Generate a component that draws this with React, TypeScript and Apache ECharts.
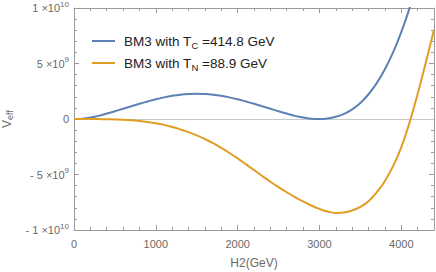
import React, { useEffect, useRef } from 'react';
import * as echarts from 'echarts';

// H2 field values (GeV)
const hValues = [
  0, 100, 200, 300, 400, 500, 600, 700, 800, 900,
  1000, 1100, 1200, 1300, 1400, 1500, 1600, 1700, 1800, 1900,
  2000, 2100, 2200, 2300, 2400, 2500, 2600, 2700, 2800, 2900,
  3000, 3100, 3200, 3300, 3400, 3500, 3600, 3700, 3800, 3900,
  4000, 4100, 4200, 4300, 4400,
];
// V_eff at T_C = 414.8 GeV
const tcValues = [
  0, 0.03e9, 0.13e9, 0.28e9, 0.49e9, 0.7e9, 0.93e9, 1.15e9, 1.37e9, 1.58e9,
  1.78e9, 1.95e9, 2.09e9, 2.19e9, 2.25e9, 2.28e9, 2.25e9, 2.19e9, 2.09e9, 1.95e9,
  1.78e9, 1.58e9, 1.37e9, 1.15e9, 0.93e9, 0.7e9, 0.49e9, 0.28e9, 0.13e9, 0.03e9,
  0, 0.05e9, 0.2e9, 0.46e9, 0.87e9, 1.45e9, 2.23e9, 3.23e9, 4.48e9, 6.0e9,
  7.82e9, 9.97e9, 12.5e9,
];
// V_eff at T_N = 88.9 GeV
const tnValues = [
  0, 0, -0.003e9, -0.01e9, -0.02e9, -0.035e9, -0.06e9, -0.11e9, -0.18e9, -0.27e9,
  -0.38e9, -0.53e9, -0.72e9, -0.94e9, -1.18e9, -1.47e9, -1.8e9, -2.18e9, -2.6e9, -3.06e9,
  -3.55e9, -4.07e9, -4.6e9, -5.13e9, -5.65e9, -6.14e9, -6.6e9, -7.03e9, -7.43e9, -7.79e9,
  -8.1e9, -8.34e9, -8.46e9, -8.42e9, -8.24e9, -7.92e9, -7.4e9, -6.62e9, -5.58e9, -4.24e9,
  -2.55e9, -0.35e9, 2.25e9, 5.1e9, 8.05e9,
];

const seriesNames = ['BM3 with TC =414.8 GeV', 'BM3 with TN =88.9 GeV'];
const legendLabels = ['BM3 with T{sub|C} =414.8 GeV', 'BM3 with T{sub|N} =88.9 GeV'];
const seriesColors = ['#5E81B5', '#E19C24'];
const xMajorTicks = [0, 1000, 2000, 3000, 4000];

const FONT = "'Liberation Sans', Arial, sans-serif";
const FRAME = '#9a9a9a';
const LABEL = '#6a6a6a';

export default function App() {
  const ref = useRef<HTMLDivElement>(null);
  useEffect(() => {
    if (!ref.current) return;
    const chart = echarts.init(ref.current, undefined, { renderer: 'svg' });
    const gridRect = { left: 74, right: 2, top: 8, bottom: 42, containLabel: false, outerBoundsMode: 'none' };
    const xBase = { type: 'value', min: 0, max: 4400, splitLine: { show: false } };
    const tickMajor = { show: true, inside: true, length: 5, lineStyle: { color: FRAME } };
    const tickMinor = { show: true, inside: true, length: 3, lineStyle: { color: FRAME } };
    const yLabel = (v: number) => {
      if (v === 0) return '0';
      const a = Math.abs(v);
      const exp = Math.floor(Math.log10(a) + 1e-9);
      const mant = Math.round(a / Math.pow(10, exp));
      return (v < 0 ? '- ' : '') + mant + ' \u00d710{sup|' + exp + '}';
    };
    const toPairs = (vals: number[]) => vals.map((v, i) => [hValues[i], v]);
    chart.setOption({
      animation: false,
      textStyle: { fontFamily: FONT },
      grid: [{ ...gridRect }, { ...gridRect }],
      legend: {
        orient: 'vertical',
        left: 87,
        top: 27,
        itemWidth: 23,
        itemHeight: 10,
        itemGap: 4,
        icon: 'path://M0,0 L23,0 L23,2 L0,2 Z',
        data: seriesNames,
        formatter: (name: string) => legendLabels[seriesNames.indexOf(name)],
        textStyle: {
          fontFamily: FONT,
          fontSize: 13.5,
          color: '#222',
          lineHeight: 18,
          padding: [0, 0, 0, 4],
          rich: {
            sub: { fontSize: 9.5, lineHeight: 10, verticalAlign: 'bottom', fontFamily: FONT, color: '#222' },
          },
        },
      },
      xAxis: [
        {
          ...xBase,
          gridIndex: 0,
          position: 'bottom',
          interval: 1000,
          axisLine: { show: true, onZero: false, lineStyle: { color: FRAME } },
          axisTick: tickMajor,
          axisLabel: {
            show: true,
            margin: 8,
            color: LABEL,
            fontSize: 11,
            fontFamily: FONT,
            showMaxLabel: false,
            formatter: (v: number) => (xMajorTicks.indexOf(v) >= 0 ? String(v) : ''),
          },
          name: 'H2(GeV)',
          nameLocation: 'middle',
          nameGap: 27,
          nameTextStyle: { color: LABEL, fontSize: 12, fontFamily: FONT },
        },
        {
          ...xBase,
          gridIndex: 0,
          position: 'top',
          interval: 1000,
          axisLine: { show: true, onZero: false, lineStyle: { color: FRAME } },
          axisTick: tickMajor,
          axisLabel: { show: false },
        },
        {
          ...xBase,
          gridIndex: 1,
          position: 'bottom',
          interval: 200,
          axisLine: { show: false, onZero: false },
          axisTick: tickMinor,
          axisLabel: { show: false },
        },
        {
          ...xBase,
          gridIndex: 1,
          position: 'top',
          interval: 200,
          axisLine: { show: false, onZero: false },
          axisTick: tickMinor,
          axisLabel: { show: false },
        },
      ],
      yAxis: [
        {
          type: 'value',
          gridIndex: 0,
          position: 'left',
          min: -1e10,
          max: 1e10,
          interval: 5e9,
          splitLine: { show: false },
          axisLine: { show: true, onZero: false, lineStyle: { color: FRAME } },
          axisTick: tickMajor,
          minorTick: { show: true, splitNumber: 5, length: 3, lineStyle: { color: FRAME } },
          axisLabel: {
            show: true,
            margin: 5,
            color: LABEL,
            fontSize: 11,
            lineHeight: 16,
            fontFamily: FONT,
            formatter: yLabel,
            rich: {
              sup: { fontSize: 8, lineHeight: 8, verticalAlign: 'top', color: LABEL, fontFamily: FONT },
            },
          },
          name: 'V{sub|eff}',
          nameLocation: 'middle',
          nameRotate: 90,
          nameGap: 58,
          nameTextStyle: {
            color: LABEL,
            fontSize: 12,
            lineHeight: 15,
            fontFamily: FONT,
            rich: { sub: { fontSize: 9, lineHeight: 9, verticalAlign: 'bottom', color: LABEL, fontFamily: FONT } },
          },
        },
        {
          type: 'value',
          gridIndex: 0,
          position: 'right',
          min: -1e10,
          max: 1e10,
          interval: 5e9,
          splitLine: { show: false },
          axisLine: { show: true, onZero: false, lineStyle: { color: FRAME } },
          axisTick: tickMajor,
          minorTick: { show: true, splitNumber: 5, length: 3, lineStyle: { color: FRAME } },
          axisLabel: { show: false },
        },
        {
          type: 'value',
          gridIndex: 1,
          min: -1e10,
          max: 1e10,
          show: false,
        },
      ],
      series: [
        {
          name: seriesNames[0],
          type: 'line',
          xAxisIndex: 0,
          yAxisIndex: 0,
          data: toPairs(tcValues),
          smooth: 0.4,
          symbol: 'none',
          clip: true,
          z: 3,
          lineStyle: { color: seriesColors[0], width: 2 },
          itemStyle: { color: seriesColors[0] },
          markLine: {
            silent: true,
            symbol: ['none', 'none'],
            label: { show: false },
            z: 1,
            lineStyle: { color: '#c8c8c8', type: 'solid', width: 1 },
            data: [{ yAxis: 0 }],
          },
        },
        {
          name: seriesNames[1],
          type: 'line',
          xAxisIndex: 0,
          yAxisIndex: 0,
          data: toPairs(tnValues),
          smooth: 0.4,
          symbol: 'none',
          clip: true,
          z: 3,
          lineStyle: { color: seriesColors[1], width: 2 },
          itemStyle: { color: seriesColors[1] },
        },
      ],
    });
    return () => chart.dispose();
  }, []);
  return (
    <div
      ref={ref}
      style={{ position: 'absolute', left: 0, top: 0, width: 436, height: 272, background: '#fff' }}
    />
  );
}
